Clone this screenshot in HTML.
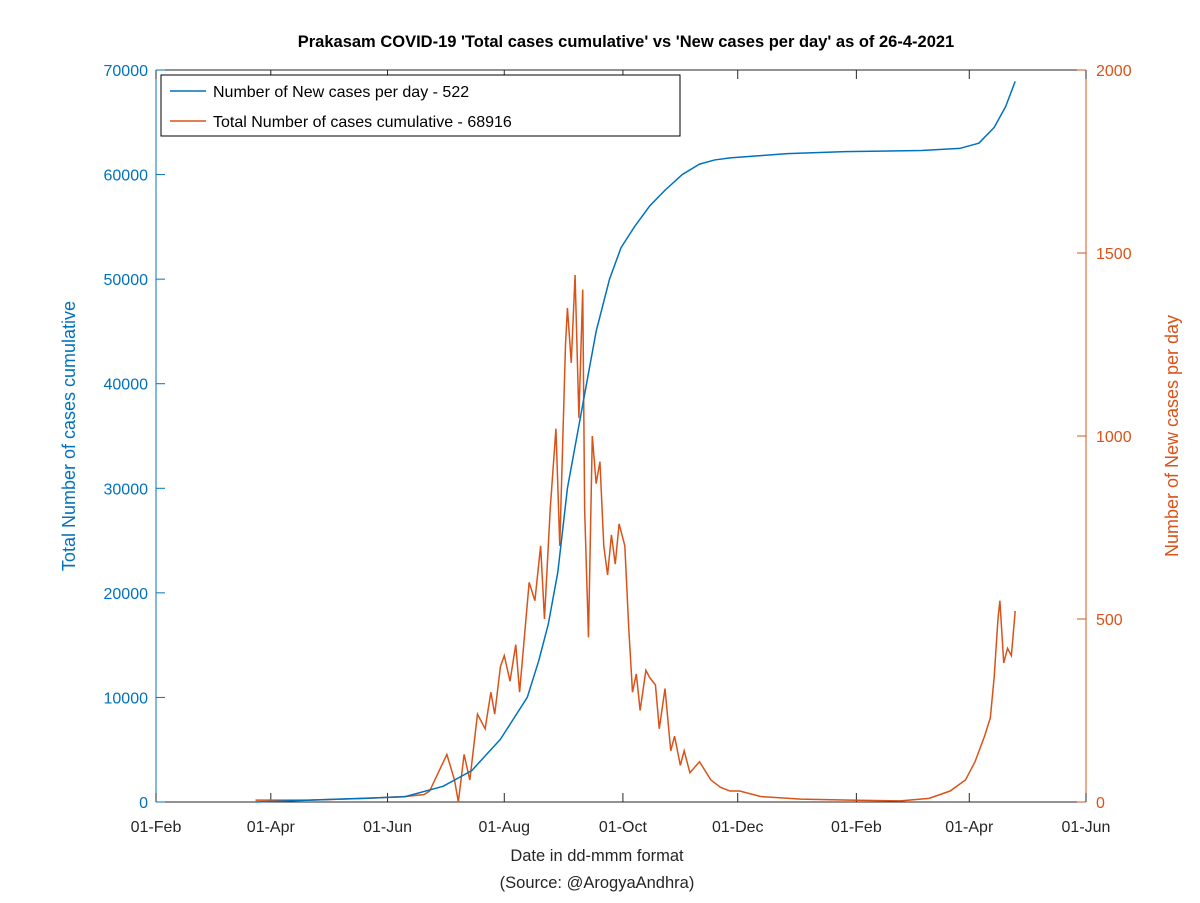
<!DOCTYPE html>
<html><head><meta charset="utf-8"><style>
body{margin:0;background:#fff;font-family:"Liberation Sans",Arial,sans-serif;}
svg text{font-family:"Liberation Sans",Arial,sans-serif;}
</style></head><body>
<svg id="chart" width="1200" height="898" viewBox="0 0 1200 898">
<rect width="1200" height="898" fill="#fff"/>
<text x="626" y="47" text-anchor="middle" font-size="16.5" font-weight="bold">Prakasam COVID-19 'Total cases cumulative' vs 'New cases per day' as of 26-4-2021</text>
<g id="axes"></g>
<g id="series"></g>
<g>
<rect x="161" y="75" width="519" height="61" fill="#fff" stroke="#000" stroke-width="1"/>
<line x1="170" y1="91" x2="206" y2="91" stroke="#0072bd" stroke-width="1.5"/>
<text x="213" y="97" font-size="16">Number of New cases per day - 522</text>
<line x1="170" y1="121" x2="206" y2="121" stroke="#d95319" stroke-width="1.5"/>
<text x="213" y="127" font-size="16">Total Number of cases cumulative - 68916</text>
</g>
<text x="597" y="861" text-anchor="middle" font-size="16.5" fill="#262626">Date in dd-mmm format</text>
<text x="597" y="888" text-anchor="middle" font-size="16.5" fill="#262626">(Source: @ArogyaAndhra)</text>
<text transform="translate(75,436) rotate(-90)" text-anchor="middle" font-size="18" fill="#0072bd">Total Number of cases cumulative</text>
<text transform="translate(1178,436) rotate(-90)" text-anchor="middle" font-size="18" fill="#d95319">Number of New cases per day</text>
</svg>
<script>
const xTickLabels=["01-Feb","01-Apr","01-Jun","01-Aug","01-Oct","01-Dec","01-Feb","01-Apr","01-Jun"];
const xTickDays=[0,60,121,182,244,304,366,425,486];
const leftTicks=[0,10000,20000,30000,40000,50000,60000,70000];
const rightTicks=[0,500,1000,1500,2000];
// days since 2020-02-01
const newDays=[52,80,110,130,140,143,152,156,158,161,164,168,172,175,177,180,182,185,188,190,193,195,198,201,203,206,209,211,214,215,217,219,221,223,224,226,228,230,232,234,236,238,240,242,245,247,249,251,253,256,258,261,263,266,269,271,274,276,279,284,290,295,300,305,316,337,363,389,404,415,423,428,433,436,438,440,441,443,445,447,449];
const newVals=[5,5,10,15,20,30,130,60,0,130,60,240,200,300,240,370,400,330,430,300,480,600,550,700,500,800,1020,700,1250,1350,1200,1440,1050,1400,800,450,1000,870,930,700,620,730,650,760,700,480,300,350,250,360,340,320,200,310,140,180,100,140,80,110,60,40,30,30,15,8,5,3,10,30,60,110,180,230,340,500,550,380,420,400,522];
const cumDays=[52,130,150,165,170,180,187,194,200,205,210,215,220,225,230,237,243,250,258,266,275,284,292,300,315,330,360,400,420,430,438,444,449];
const cumVals=[0,500,1500,3000,4000,6000,8000,10000,13500,17000,22000,30000,35000,40000,45000,50000,53000,55000,57000,58500,60000,61000,61400,61600,61800,62000,62200,62300,62500,63000,64500,66500,68916];
const X0=156,X1=1086,Y0=802,Y1=70,D=486;
const x=d=>X0+d/D*(X1-X0);
const yl=v=>Y0-v/70000*(Y0-Y1);
const yr=v=>Y0-v/2000*(Y0-Y1);
const NS="http://www.w3.org/2000/svg";
function mk(t,a,p){const e=document.createElementNS(NS,t);for(const k in a)e.setAttribute(k,a[k]);p.appendChild(e);return e;}
const ax=document.getElementById('axes'),se=document.getElementById('series');
let e;
e=mk('line',{x1:X0,y1:Y0,x2:X1,y2:Y0,stroke:'#262626'},ax);


e=mk('line',{x1:X0,y1:Y0,x2:X0,y2:Y1,stroke:'#0072bd'},ax);


e=mk('line',{x1:X1,y1:Y0,x2:X1,y2:Y1,stroke:'#d95319'},ax);


e=mk('line',{x1:X0,y1:Y1,x2:X1,y2:Y1,stroke:'#262626'},ax);


xTickDays.forEach((d,i)=>{
 mk('line',{x1:x(d),y1:Y0,x2:x(d),y2:Y0-9,stroke:'#262626'},ax);
 mk('line',{x1:x(d),y1:Y1,x2:x(d),y2:Y1+9,stroke:'#262626'},ax);
 const t=mk('text',{x:x(d),y:Y0+30,'text-anchor':'middle','font-size':16,fill:'#262626'},ax);t.textContent=xTickLabels[i];
 
 
});
leftTicks.forEach(v=>{
 mk('line',{x1:X0,y1:yl(v),x2:X0+9,y2:yl(v),stroke:'#0072bd'},ax);
 const t=mk('text',{x:X0-8,y:yl(v)+6,'text-anchor':'end','font-size':16,fill:'#0072bd'},ax);t.textContent=v;
 
 
});
rightTicks.forEach(v=>{
 mk('line',{x1:X1,y1:yr(v),x2:X1-9,y2:yr(v),stroke:'#d95319'},ax);
 const t=mk('text',{x:X1+10,y:yr(v)+6,'font-size':16,fill:'#d95319'},ax);t.textContent=v;
 
 
});
e=mk('polyline',{points:newDays.map((d,i)=>x(d)+','+yr(newVals[i])).join(' '),fill:'none',stroke:'#d95319','stroke-width':1.5},se);


e=mk('polyline',{points:cumDays.map((d,i)=>x(d)+','+yl(cumVals[i])).join(' '),fill:'none',stroke:'#0072bd','stroke-width':1.5,'stroke-linejoin':'round'},se);


</script>
</body></html>
